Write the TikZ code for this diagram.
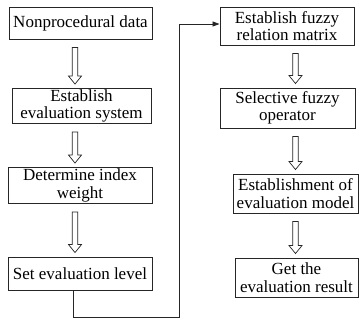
\documentclass[tikz,border=0pt]{standalone}
\usepackage{fontspec}
\setmainfont{Liberation Serif}
\usetikzlibrary{arrows.meta,calc}
\begin{document}
\begin{tikzpicture}[x=1bp,y=-1bp,
  box/.style={draw=black!85,line width=0.9bp,inner sep=0pt,align=center,
    font=\fontsize{17bp}{17.5bp}\selectfont},
  blk/.style={draw=black!85,line width=0.7bp,fill=white},
  % hollow block arrow from the bottom of one box to the top of the next,
  % centred on the x of the given coordinate
  hollow/.style={to path={let \p1=(\tikztostart.south),\p2=(\tikztotarget.north),\p3=(#1) in
    (\x3-2.8bp,\y1-8bp) -- (\x3+2.8bp,\y1-8bp) -- (\x3+2.8bp,\y2+12bp)
    -- (\x3+6.5bp,\y2+12bp) -- (\x3,\y2+4bp) -- (\x3-6.5bp,\y2+12bp)
    -- (\x3-2.8bp,\y2+12bp) -- cycle}},
  conn/.style={draw=black!85,line width=0.9bp,-{Triangle[length=7bp,width=5bp]}}]

\fill[white] (0,0) rectangle (364,321);
\useasboundingbox (0,0) rectangle (364,321);

\coordinate (colL) at (75,0);
\coordinate (colR) at (295.5,0);

% left column
\node[box,minimum width=143bp,minimum height=32bp] (b1) at (80.5,23) {Nonprocedural data};
\node[box,minimum width=139bp,minimum height=35bp] (b2) at (81.5,106) {Establish\\evaluation system};
\node[box,minimum width=144bp,minimum height=36bp] (b3) at (80,185.5) {Determine index\\weight};
\node[box,minimum width=144bp,minimum height=33bp] (b4) at (80,273.5) {Set evaluation level};

% right column
\node[box,minimum width=134bp,minimum height=38bp] (b5) at (287,26) {Establish fuzzy\\relation matrix};
\node[box,minimum width=135bp,minimum height=40bp] (b6) at (287.5,108) {Selective fuzzy\\operator};
\node[box,minimum width=125bp,minimum height=39bp] (b7) at (295.5,193.5) {Establishment of\\evaluation model};
\node[box,minimum width=123bp,minimum height=39bp] (b8) at (296.5,277.5) {Get the\\evaluation result};

% block arrows
\draw[blk] (b1) to[hollow=colL] (b2);
\draw[blk] (b2) to[hollow=colL] (b3);
\draw[blk] (b3) to[hollow=colL] (b4);
\draw[blk] (b5) to[hollow=colR] (b6);
\draw[blk] (b6) to[hollow=colR] (b7);
\draw[blk] (b7) to[hollow=colR] (b8);

% link from the bottom of the left column to the top of the right one
\coordinate (ca) at (73,317);
\coordinate (cb) at (179,317);
\coordinate (cc) at (179,24);
\draw[conn] (b4.south -| ca) -- (ca) -- (cb) -- (cc) -- (cc -| b5.west);
\end{tikzpicture}
\end{document}
